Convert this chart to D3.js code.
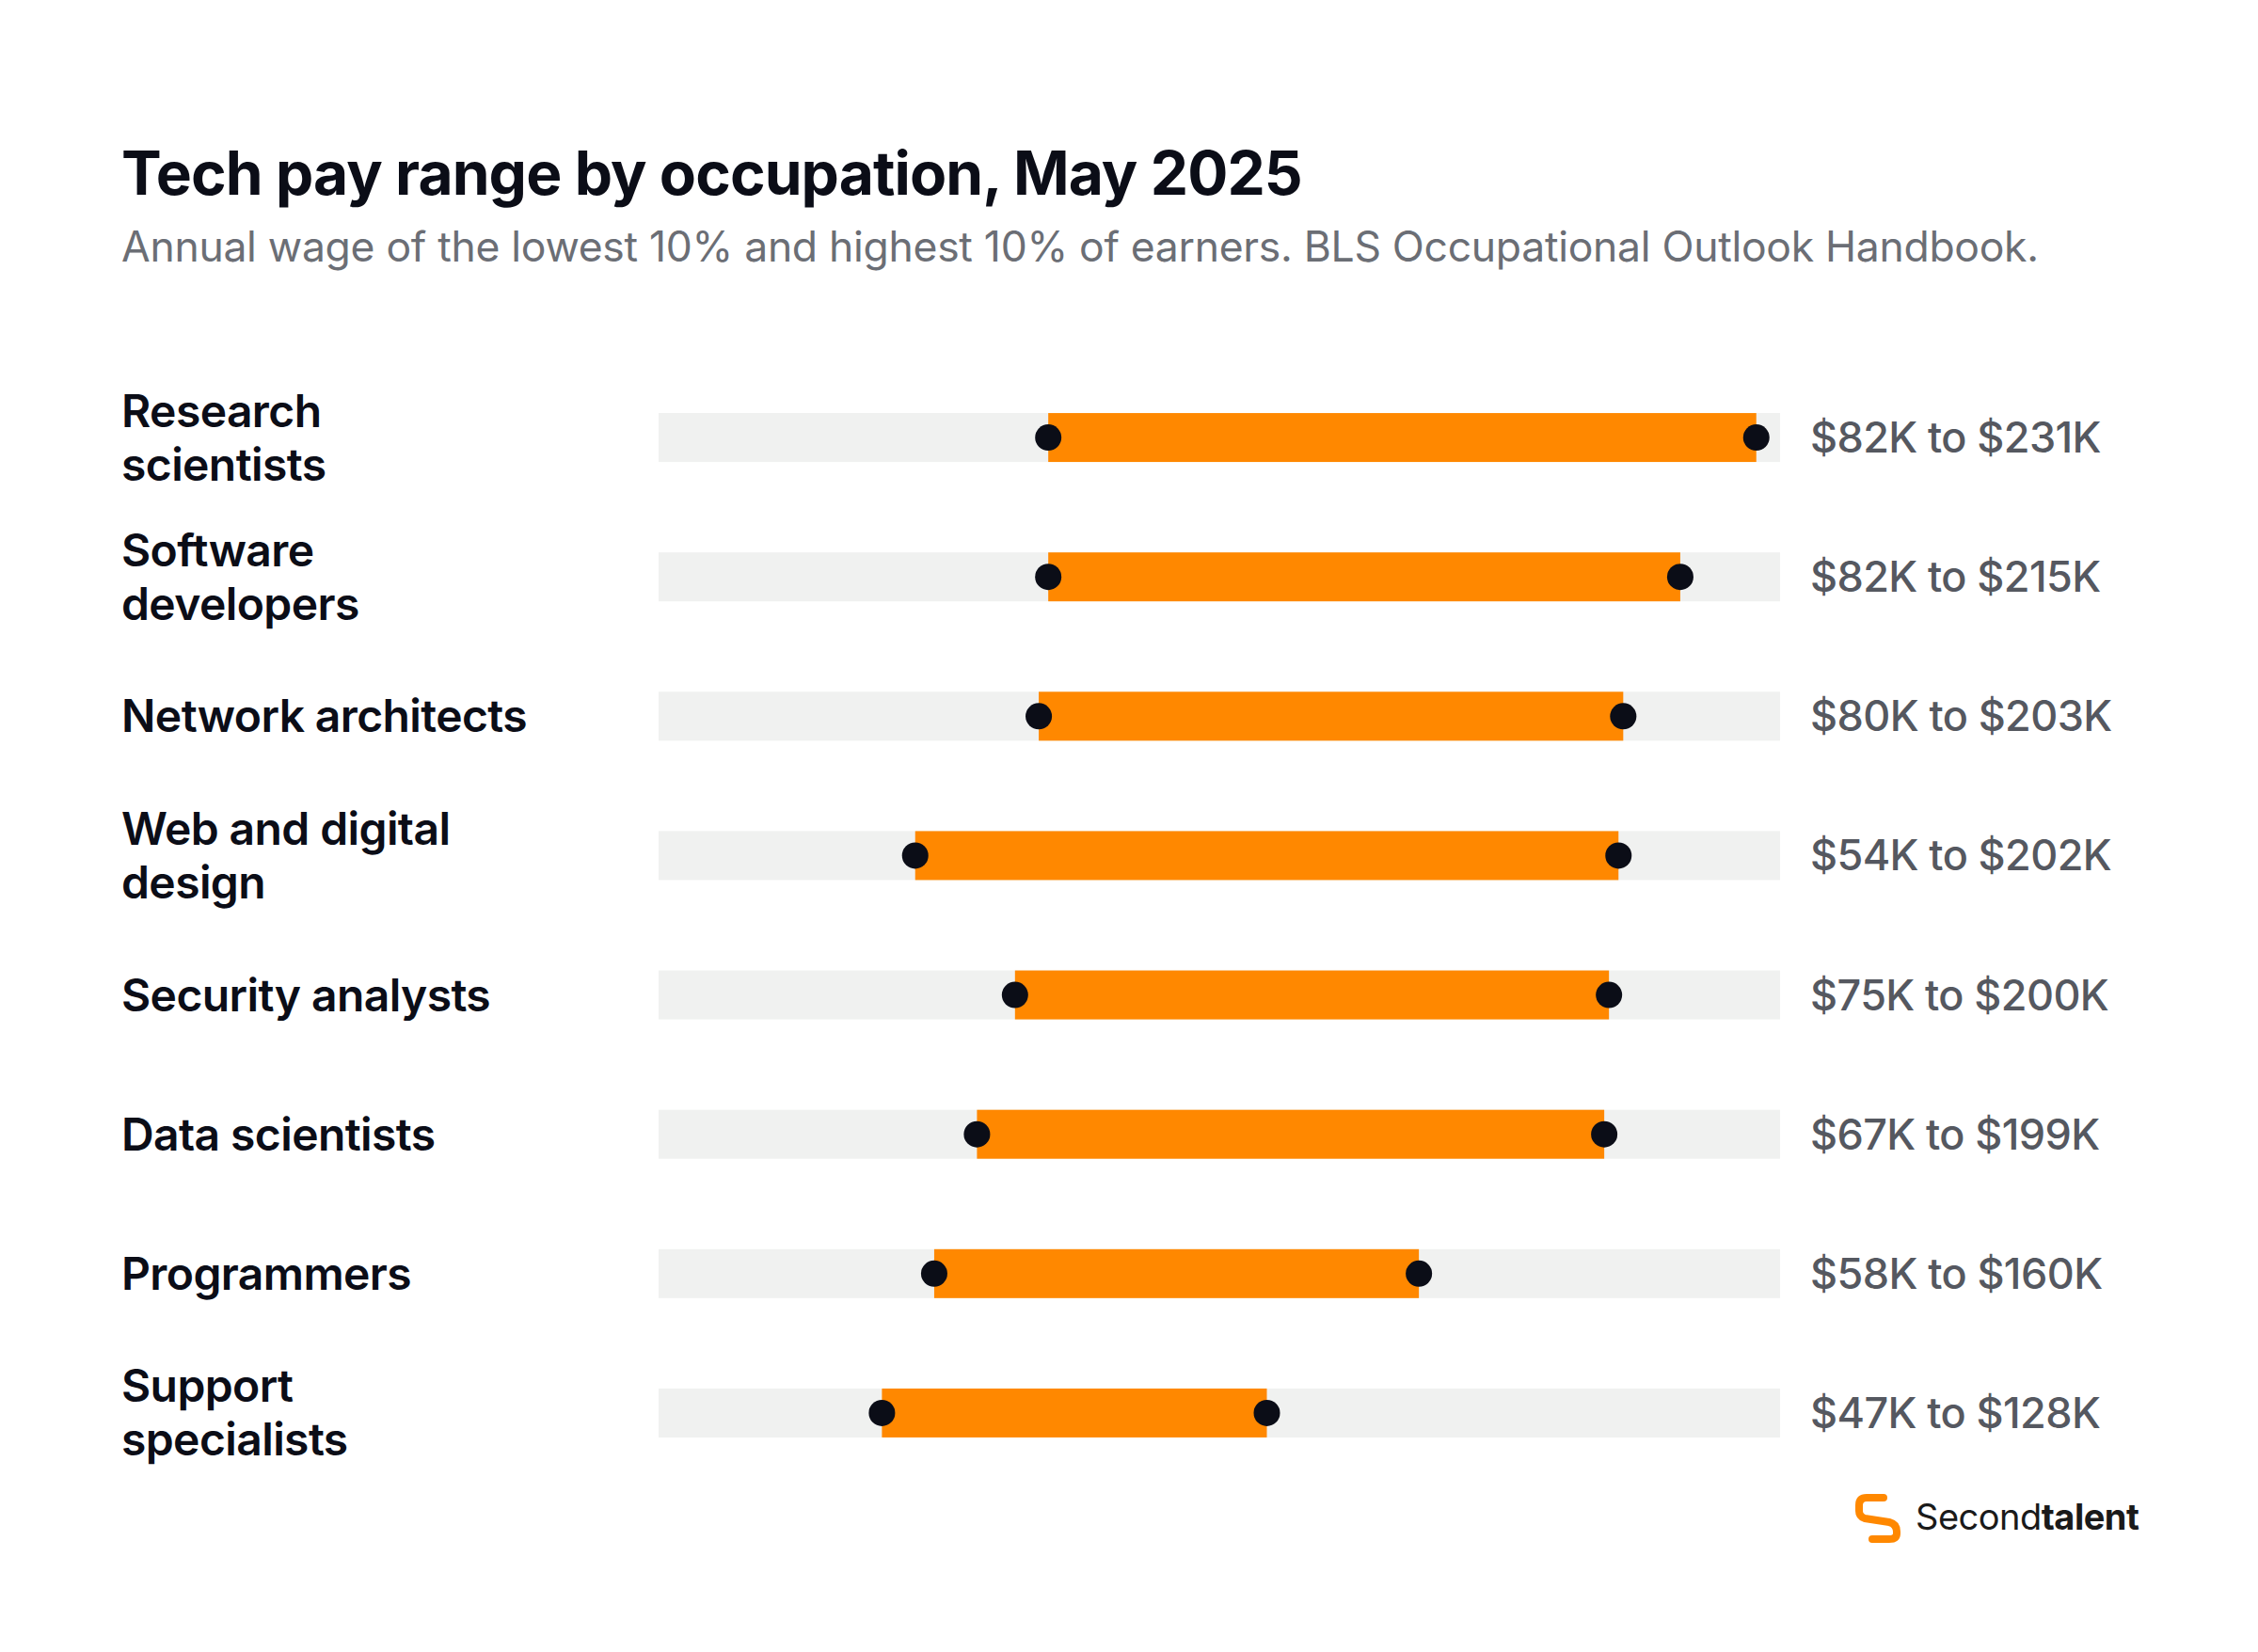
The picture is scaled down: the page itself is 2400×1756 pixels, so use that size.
<!DOCTYPE html>
<html><head><meta charset="utf-8">
<script src="https://cdn.jsdelivr.net/npm/d3@7"></script>
<style>body{margin:0;background:#fff}</style></head>
<body><svg id="c" width="2400" height="1756"></svg>
<script>
const categories = [["Research","scientists"],["Software","developers"],["Network architects"],["Web and digital","design"],["Security analysts"],["Data scientists"],["Programmers"],["Support","specialists"]];
const low = [82,82,80,54,75,67,58,47];
const high = [231,215,203,202,200,199,160,128];
const valueLabels = ["$82K to $231K","$82K to $215K","$80K to $203K","$54K to $202K","$75K to $200K","$67K to $199K","$58K to $160K","$47K to $128K"];

const svg = d3.select("#c");
const font = "Inter, 'DejaVu Sans', sans-serif";
const x = d3.scaleLinear().domain([0,236]).range([700,1892]);
const y = d3.scaleBand().domain(d3.range(categories.length)).range([391,1576]).padding(0);
const cy = i => y(i)+y.bandwidth()/2;
const bh = 52;

svg.append("text").attr("x",129).attr("y",207).attr("font-family",font).attr("font-weight",700)
  .attr("font-size",64).attr("fill","#0b0d17").attr("letter-spacing",-0.9).text("Tech pay range by occupation, May 2025");
svg.append("text").attr("x",129).attr("y",278).attr("font-family",font).attr("font-weight",400)
  .attr("font-size",44.5).attr("fill","#6b6e75").attr("letter-spacing",-0.3).text("Annual wage of the lowest 10% and highest 10% of earners. BLS Occupational Outlook Handbook.");

const g = svg.append("g");
categories.forEach((lines,i)=>{
  const c = cy(i);
  g.append("rect").attr("x",x(0)).attr("width",x(236)-x(0)).attr("y",c-bh/2).attr("height",bh).attr("fill","#f0f1f0");
  g.append("rect").attr("x",x(low[i])).attr("width",x(high[i])-x(low[i])).attr("y",c-bh/2).attr("height",bh).attr("fill","#ff8800");
  [low[i],high[i]].forEach(v=>g.append("circle").attr("cx",x(v)).attr("cy",c).attr("r",14).attr("fill","#0b0d17"));
  const t = g.append("text").attr("x",129).attr("font-family",font).attr("font-weight",600)
    .attr("font-size",48).attr("fill","#0b0d17").attr("letter-spacing",-0.6);
  const lh = 57;
  lines.forEach((l,k)=>{
    t.append("tspan").attr("x",129).attr("y",c + 17 + (k-(lines.length-1)/2)*lh).text(l);
  });
  g.append("text").attr("x",1924).attr("y",c+16).attr("font-family",font).attr("font-weight",500)
    .attr("font-size",45).attr("fill","#555860").attr("letter-spacing",-0.6).text(valueLabels[i]);
});

// logo
const lg = svg.append("g").attr("transform","translate(1972,1588)");
lg.append("path").attr("d","M30 4 L12 4 Q4 4 4 12 L4 18 Q4 24 10 26 L36 30 Q44 32 44 40 L44 42 Q44 48 36 48 L18 48")
  .attr("fill","none").attr("stroke","#ff8800").attr("stroke-width",8).attr("stroke-linecap","round").attr("stroke-linejoin","round");
const lt = svg.append("text").attr("x",2036).attr("y",1626).attr("font-family",font).attr("font-size",38).attr("fill","#1a1a1a").attr("letter-spacing",-0.5);
lt.append("tspan").attr("font-weight",400).text("Second");
lt.append("tspan").attr("font-weight",700).text("talent");
</script></body></html>
